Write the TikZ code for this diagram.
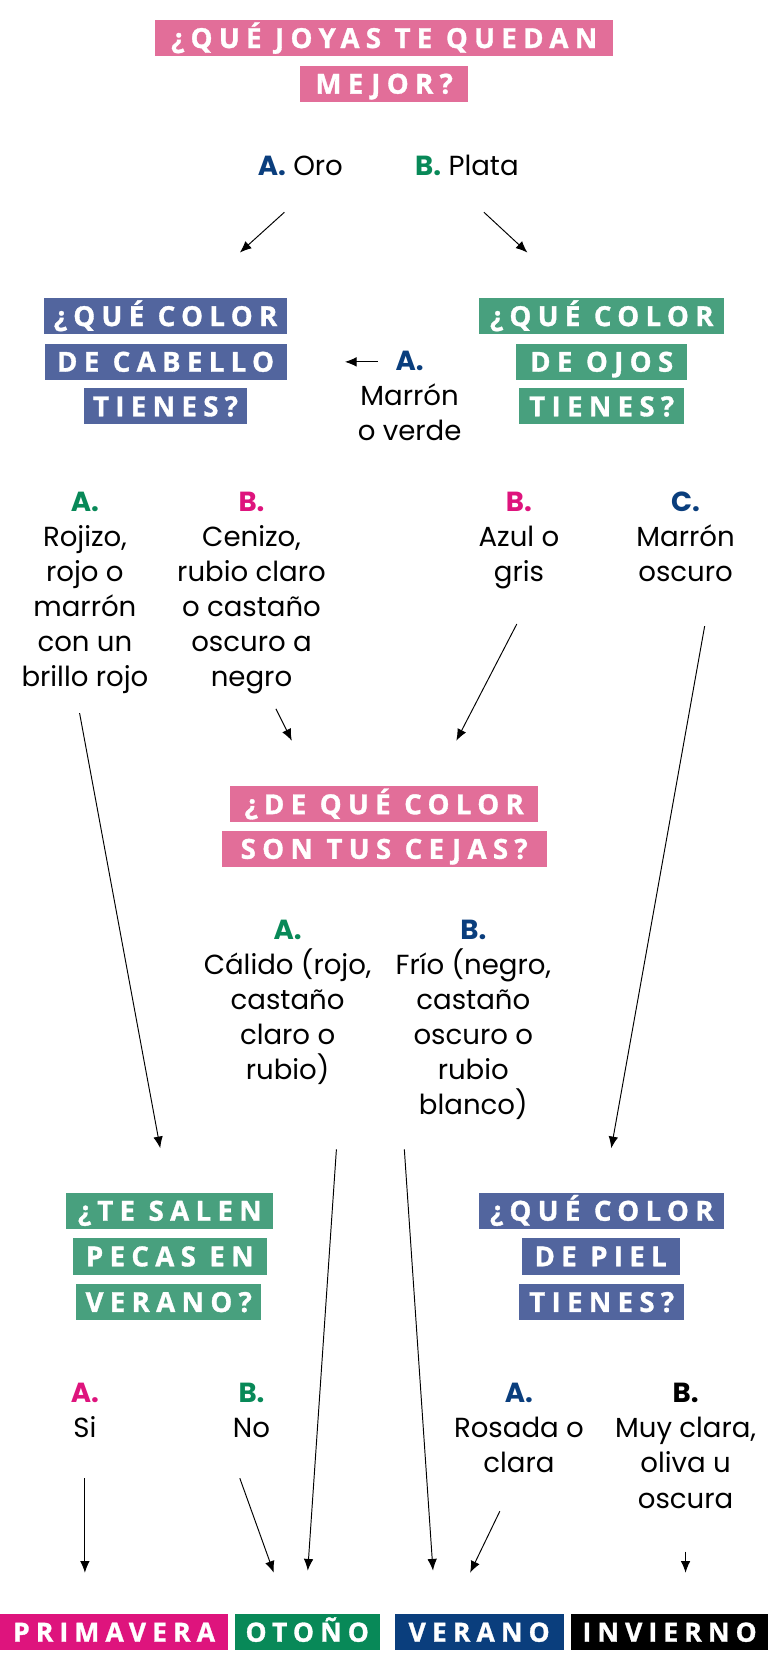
\documentclass[tikz,border=0pt]{standalone}
\usepackage{fontspec}
\setmainfont{Poppins}
\newfontfamily\headfont[LetterSpace=23, BoldFeatures={FakeBold=1.2}]{Open Sans}
\usetikzlibrary{arrows.meta}

\definecolor{rosabox}{RGB}{226,110,153}
\definecolor{azulbox}{RGB}{82,101,158}
\definecolor{verdebox}{RGB}{72,160,126}
\definecolor{rosa}{RGB}{222,20,125}
\definecolor{verde}{RGB}{8,137,88}
\definecolor{azul}{RGB}{10,62,125}

\newcommand{\letra}[2]{\textcolor{#1}{\bfseries #2}}

\tikzset{
  pregunta/.style={text=white, inner sep=0pt, minimum height=34pt,
    text height=18.5pt, text depth=0pt,
    font=\headfont\bfseries\fontsize{26}{30}\selectfont},
  respuesta/.style={align=center, anchor=base, inner sep=0pt,
    font=\fontsize{26}{33}\selectfont},
  estacion/.style={text=white, inner sep=0pt, minimum height=34pt,
    text height=18pt, text depth=0pt,
    font=\headfont\bfseries\fontsize{25}{30}\selectfont},
  flecha/.style={-{Latex[length=11pt,width=9pt]}, line width=0.9pt}
}

\begin{document}
\begin{tikzpicture}[x=1pt,y=-1pt]
    \useasboundingbox (0,0) rectangle (724,1568);
    % First question
    \node[pregunta, fill=rosabox, minimum width=431pt] (joyas1) at (362,36) {¿QUÉ JOYAS TE QUEDAN};
    \node[pregunta, fill=rosabox, minimum width=158pt] (joyas2) at (362,79) {MEJOR?};
    \node[respuesta] (oro) at (283,165) {\letra{azul}{A.} Oro};
    \node[respuesta] (plata) at (440,165) {\letra{verde}{B.} Plata};
    % Hair and eyes
    \node[pregunta, fill=azulbox, minimum width=229pt] (cabello1) at (156,298) {¿QUÉ COLOR};
    \node[pregunta, fill=azulbox, minimum width=228pt] (cabello2) at (156,341) {DE CABELLO};
    \node[pregunta, fill=azulbox, minimum width=154pt] (cabello3) at (156,383) {TIENES?};
    \node[pregunta, fill=verdebox, minimum width=231pt] (ojos1) at (567,298) {¿QUÉ COLOR};
    \node[pregunta, fill=verdebox, minimum width=161pt] (ojos2) at (567,341) {DE OJOS};
    \node[pregunta, fill=verdebox, minimum width=155pt] (ojos3) at (567,383) {TIENES?};
    \node[respuesta] (ojosA) at (386,415) {\letra{azul}{A.}\\Marrón\\o verde};
    \node[respuesta] (cabelloA) at (80,647) {\letra{verde}{A.}\\Rojizo,\\rojo o\\marrón\\con un\\brillo rojo};
    \node[respuesta] (cabelloB) at (237,647) {\letra{rosa}{B.}\\Cenizo,\\rubio claro\\o castaño\\oscuro a\\negro};
    \node[respuesta] (ojosB) at (489,548) {\letra{rosa}{B.}\\Azul o\\gris};
    \node[respuesta] (ojosC) at (646,548) {\letra{azul}{C.}\\Marrón\\oscuro};
    % Eyebrows
    \node[pregunta, fill=rosabox, minimum width=290pt] (cejas1) at (362,758) {¿DE QUÉ COLOR};
    \node[pregunta, fill=rosabox, minimum width=306pt] (cejas2) at (362,800) {SON TUS CEJAS?};
    \node[respuesta] (cejasA) at (271,1017) {\letra{verde}{A.}\\Cálido (rojo,\\castaño\\claro o\\rubio)};
    \node[respuesta] (cejasB) at (446,1050) {\letra{azul}{B.}\\Frío (negro,\\castaño\\oscuro o\\rubio\\blanco)};
    % Freckles and skin
    \node[pregunta, fill=verdebox, minimum width=195pt] (pecas1) at (160,1141) {¿TE SALEN};
    \node[pregunta, fill=verdebox, minimum width=183pt] (pecas2) at (160,1184) {PECAS EN};
    \node[pregunta, fill=verdebox, minimum width=174pt] (pecas3) at (159,1227) {VERANO?};
    \node[pregunta, fill=azulbox, minimum width=231pt] (piel1) at (567,1141) {¿QUÉ COLOR};
    \node[pregunta, fill=azulbox, minimum width=149pt] (piel2) at (566,1184) {DE PIEL};
    \node[pregunta, fill=azulbox, minimum width=155pt] (piel3) at (567,1227) {TIENES?};
    \node[respuesta] (pecasA) at (80,1355) {\letra{rosa}{A.}\\Si};
    \node[respuesta] (pecasB) at (237,1355) {\letra{verde}{B.}\\No};
    \node[respuesta] (pielA) at (489,1388) {\letra{azul}{A.}\\Rosada o\\clara};
    \node[respuesta] (pielB) at (646,1421) {\letra{black}{B.}\\Muy clara,\\oliva u\\oscura};
    % Seasons
    \node[estacion, fill=rosa, minimum width=215pt] (primavera) at (107.5,1538) {PRIMAVERA};
    \node[estacion, fill=verde, minimum width=137pt] (otono) at (289.5,1538) {OTOÑO};
    \node[estacion, fill=azul, minimum width=159pt] (verano) at (451.5,1538) {VERANO};
    \node[estacion, fill=black, minimum width=186pt] (invierno) at (631,1538) {INVIERNO};
    % Arrow ends
    \coordinate (oro-s) at (268,200);
    \coordinate (oro-e) at (226,238);
    \coordinate (plata-s) at (456,200);
    \coordinate (plata-e) at (497,238);
    \coordinate (ojosA-s) at (356,341);
    \coordinate (ojosA-e) at (325,341);
    \coordinate (cabelloA-s) at (75,672);
    \coordinate (cabelloA-e) at (151,1082);
    \coordinate (cabelloB-s) at (260,668);
    \coordinate (cabelloB-e) at (275,698);
    \coordinate (ojosB-s) at (487,588);
    \coordinate (ojosB-e) at (430,698);
    \coordinate (ojosC-s) at (664,590);
    \coordinate (ojosC-e) at (576,1082);
    \coordinate (cejasA-s) at (317,1083);
    \coordinate (cejasA-e) at (290,1480);
    \coordinate (cejasB-s) at (381,1083);
    \coordinate (cejasB-e) at (408,1480);
    \coordinate (pecasA-s) at (80,1393);
    \coordinate (pecasA-e) at (80,1482);
    \coordinate (pecasB-s) at (226,1393);
    \coordinate (pecasB-e) at (258,1482);
    \coordinate (pielA-s) at (471,1424);
    \coordinate (pielA-e) at (443,1482);
    \coordinate (pielB-s) at (646,1462);
    \coordinate (pielB-e) at (646,1482);
    % Arrows
    \draw[flecha] (oro-s) -- (oro-e);
    \draw[flecha] (plata-s) -- (plata-e);
    \draw[flecha] (ojosA-s) -- (ojosA-e);
    \draw[flecha] (cabelloA-s) -- (cabelloA-e);
    \draw[flecha] (cabelloB-s) -- (cabelloB-e);
    \draw[flecha] (ojosB-s) -- (ojosB-e);
    \draw[flecha] (ojosC-s) -- (ojosC-e);
    \draw[flecha] (cejasA-s) -- (cejasA-e);
    \draw[flecha] (cejasB-s) -- (cejasB-e);
    \draw[flecha] (pecasA-s) -- (pecasA-e);
    \draw[flecha] (pecasB-s) -- (pecasB-e);
    \draw[flecha] (pielA-s) -- (pielA-e);
    \draw[flecha] (pielB-s) -- (pielB-e);
\end{tikzpicture}
\end{document}
